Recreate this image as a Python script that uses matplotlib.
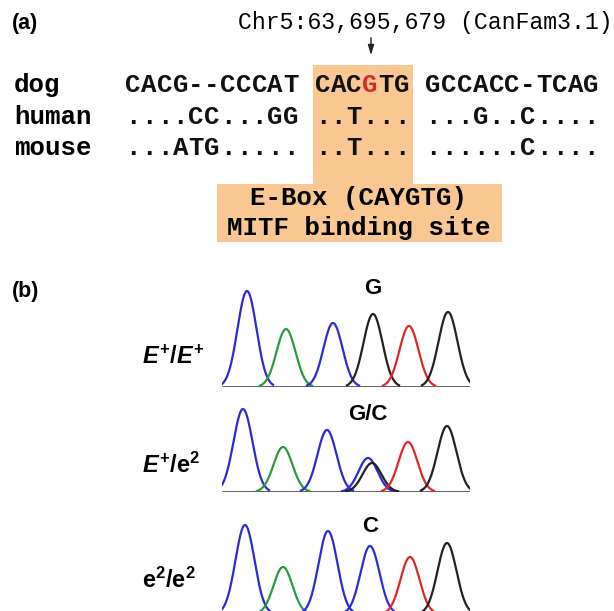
import numpy as np
import matplotlib.pyplot as plt

plt.rcParams['mathtext.fontset'] = 'custom'
plt.rcParams['mathtext.it'] = 'Liberation Sans:italic:bold'
plt.rcParams['mathtext.rm'] = 'Liberation Sans:bold'
plt.rcParams['mathtext.bf'] = 'Liberation Sans:bold'

# (a) alignment around the E-box
species = ['dog', 'human', 'mouse']
alignment = ['CACG--CCCAT CACGTG GCCACC-TCAG',
             '....CC...GG ..T... ...G..C....',
             '...ATG..... ..T... ......C....']
snp_index = 15
locus = 'Chr5:63,695,679 (CanFam3.1)'
ebox_lines = ['E-Box (CAYGTG)', 'MITF binding site']

# (b) chromatogram traces (peak position, height, channel)
genotypes = [r'$E^{+}/E^{+}$', r'$E^{+}/\mathrm{e}^{2}$', r'$\mathrm{e}^{2}/\mathrm{e}^{2}$']
calls = ['G', 'G/C', 'C']
peak_pos = [[25, 64, 111, 151, 187, 226],
            [21, 61, 105, 146, 150, 186, 225],
            [23, 61, 106, 148, 188, 225]]
peak_h = [[96, 58, 64, 73, 61, 75],
          [83, 45, 62, 34, 29, 50, 66],
          [89, 47, 83, 68, 57, 71]]
peak_ch = [['A', 'T', 'A', 'C', 'G', 'C'],
           ['A', 'T', 'A', 'A', 'C', 'G', 'C'],
           ['A', 'T', 'A', 'A', 'G', 'C']]
snp_peak = [3, 3, 3]

chan_col = {'A': '#2b2bd9', 'T': '#2a9a3c', 'G': '#e0262b', 'C': '#222222'}
box_col = '#f8c792'
mono = 'Liberation Mono'
W, H = 614, 611

fig = plt.figure(figsize=(W / 100, H / 100), dpi=100)
ax = fig.add_axes([0, 0, 1, 1])
ax.set_xlim(0, W)
ax.set_ylim(H, 0)
ax.axis('off')

# orange E-box highlight
ax.add_patch(plt.Rectangle((313, 65), 100, 121, color=box_col, lw=0))
ax.add_patch(plt.Rectangle((217, 184), 285, 58, color=box_col, lw=0))

ax.text(12, 24, '(a)', fontsize=15.5, fontweight='bold', family='Liberation Sans',
        va='center', ha='left')
ax.text(12, 292, '(b)', fontsize=15.5, fontweight='bold', family='Liberation Sans',
        va='center', ha='left')

ax.text(238, 29, locus, fontsize=16.7, family=mono, va='baseline', ha='left')
ax.annotate('', xy=(371, 58), xytext=(371, 35),
            arrowprops=dict(arrowstyle='-|>,head_length=0.6,head_width=0.18',
                            color='#222222', lw=1))

cw = 15.8
x0 = 125
baselines = [92, 123.5, 155]
for name, seq, yb in zip(species, alignment, baselines):
    ax.text(14, yb, name, fontsize=18.5, family=mono, fontweight='bold',
            va='baseline', ha='left')
    for i, ch in enumerate(seq):
        if ch == ' ':
            continue
        col = '#d42a2a' if (name == 'dog' and i == snp_index) else '#111111'
        ax.text(x0 + (i + 0.5) * cw, yb, ch, fontsize=18.5, family=mono,
                fontweight='bold', color=col, va='baseline', ha='center')

ax.text(358, 205, ebox_lines[0], fontsize=18.5, family=mono, fontweight='bold',
        va='baseline', ha='center')
ax.text(359, 235, ebox_lines[1], fontsize=18.5, family=mono, fontweight='bold',
        va='baseline', ha='center')

# chromatograms
trace_base = [387, 492, 614]
label_y = [357, 465, 580]
call_y = [99, 77, 87]
sigma = 9.5
for k in range(3):
    yb = trace_base[k]
    tax = fig.add_axes([222 / W, (H - yb) / H, 248 / W, 110 / H])
    tax.set_xlim(0, 248)
    tax.set_ylim(0, 110)
    tax.axis('off')
    tax.plot([0, 248], [0, 0], color='#333333', lw=1.8, solid_capstyle='butt')
    for p, h, c in zip(peak_pos[k], peak_h[k], peak_ch[k]):
        xs = np.linspace(max(p - 26, 0), min(p + 26, 248), 200)
        ys = h * np.exp(-0.5 * ((xs - p) / sigma) ** 2)
        tax.plot(xs, ys, color=chan_col[c], lw=1.6)
    tax.text(peak_pos[k][snp_peak[k]], call_y[k], calls[k], fontsize=16,
             fontweight='bold', family='Liberation Sans', ha='center', va='center')
    ax.text(142, label_y[k], genotypes[k], fontsize=17, ha='left', va='center')

fig.savefig('out.png', dpi=100)
